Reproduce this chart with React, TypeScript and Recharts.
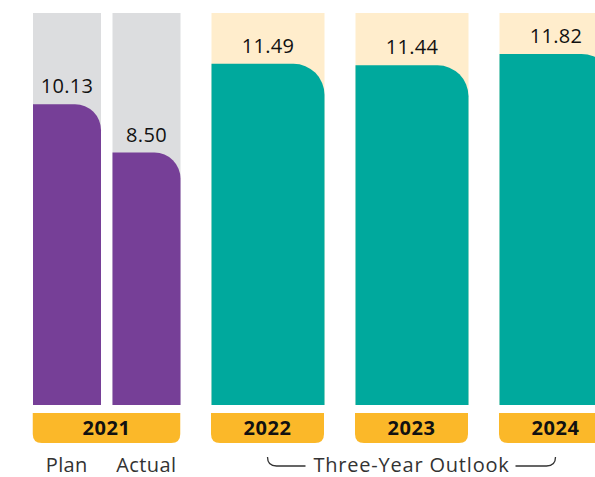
import { BarChart, Bar, XAxis, YAxis, LabelList } from "recharts"

const currentLabels = ["Plan", "Actual"]
const currentValues = [10.13, 8.5]
const currentYear = "2021"

const outlookYears = ["2022", "2023", "2024"]
const outlookValues = [11.49, 11.44, 11.82]
const outlookTitle = "Three-Year Outlook"

const Y_MAX = 13.2
const FONT = "'Open Sans', Lato, sans-serif"

const currentData = currentLabels.map((label, i) => ({ label, value: currentValues[i] }))
const outlookData = outlookYears.map((year, i) => ({ year, value: outlookValues[i] }))

// bottom-rounded tab under the bars
function YearBox({ x, y, width, text }: { x: number; y: number; width: number; text: string }) {
  const h = 30
  const r = 9
  const top = y + 8
  const d = `M${x},${top} H${x + width} V${top + h - r} Q${x + width},${top + h} ${x + width - r},${top + h} H${x + r} Q${x},${top + h} ${x},${top + h - r} Z`
  return (
    <g>
      <path d={d} fill="#FBB829" />
      <text x={x + width / 2} y={top + 22} textAnchor="middle" fontFamily={FONT} fontWeight={700} fontSize={20} letterSpacing={0.6} fill="#111">
        {text}
      </text>
    </g>
  )
}

const LEFT_BAR = 68
const LEFT_BAND = 79.5
const RIGHT_BAR = 113
const RIGHT_BAND = 144

function CurrentTick(props: any) {
  const { x, y, payload, index } = props
  return (
    <g>
      {index === 0 && (
        <YearBox x={x - LEFT_BAR / 2} y={y} width={LEFT_BAND + LEFT_BAR} text={currentYear} />
      )}
      <text x={x} y={y + 67} textAnchor="middle" fontFamily={FONT} fontSize={20} letterSpacing={0.4} fill="#333">
        {payload.value}
      </text>
    </g>
  )
}

function OutlookTick(props: any) {
  const { x, y, payload, index } = props
  const ly = y + 61
  return (
    <g>
      <YearBox x={x - RIGHT_BAR / 2} y={y} width={RIGHT_BAR} text={payload.value} />
      {index === 1 && (
        <g>
          <path
            d={`M${x - RIGHT_BAND},${ly - 9} Q${x - RIGHT_BAND},${ly} ${x - RIGHT_BAND + 9},${ly} H${x - 106}`}
            fill="none"
            stroke="#333"
            strokeWidth={1.3}
          />
          <path
            d={`M${x + 104},${ly} H${x + RIGHT_BAND - 9} Q${x + RIGHT_BAND},${ly} ${x + RIGHT_BAND},${ly - 9}`}
            fill="none"
            stroke="#333"
            strokeWidth={1.3}
          />
          <text x={x} y={ly + 6} textAnchor="middle" fontFamily={FONT} fontSize={20} letterSpacing={0.8} fill="#333">
            {outlookTitle}
          </text>
        </g>
      )}
    </g>
  )
}

export default function App() {
  return (
    <div style={{ position: "relative", width: 595, height: 477, overflow: "hidden", background: "#fff" }}>
      <style>{`body{margin:0}`}</style>
      <div style={{ position: "absolute", left: 0, top: 0 }}>
        <BarChart width={190} height={477} data={currentData} margin={{ top: 13, right: 4, left: 27, bottom: 0 }}>
          <XAxis
            dataKey="label"
            axisLine={false}
            tickLine={false}
            tickSize={0}
            tickMargin={0}
            height={72}
            interval={0}
            tick={<CurrentTick />}
          />
          <YAxis hide domain={[0, Y_MAX]} />
          <Bar
            dataKey="value"
            fill="#763F97"
            barSize={LEFT_BAR}
            radius={[0, 26, 0, 0]}
            background={{ fill: "#DCDDDF", radius: 0 }}
            isAnimationActive={false}
          >
            <LabelList
              dataKey="value"
              position="top"
              offset={11}
              formatter={(v: any) => Number(v).toFixed(2)}
              style={{ fontFamily: FONT, fontSize: 20, letterSpacing: 0.3, fill: "#111" }}
            />
          </Bar>
        </BarChart>
      </div>
      <div style={{ position: "absolute", left: 190, top: 0 }}>
        <BarChart width={450} height={477} data={outlookData} margin={{ top: 13, right: 12.5, left: 5.5, bottom: 0 }}>
          <XAxis
            dataKey="year"
            axisLine={false}
            tickLine={false}
            tickSize={0}
            tickMargin={0}
            height={72}
            interval={0}
            tick={<OutlookTick />}
          />
          <YAxis hide domain={[0, Y_MAX]} />
          <Bar
            dataKey="value"
            fill="#00A99D"
            barSize={RIGHT_BAR}
            radius={[0, 31, 0, 0]}
            background={{ fill: "#FFEDCC", radius: 0 }}
            isAnimationActive={false}
          >
            <LabelList
              dataKey="value"
              position="top"
              offset={11}
              formatter={(v: any) => Number(v).toFixed(2)}
              style={{ fontFamily: FONT, fontSize: 20, letterSpacing: 0.3, fill: "#111" }}
            />
          </Bar>
        </BarChart>
      </div>
    </div>
  )
}
